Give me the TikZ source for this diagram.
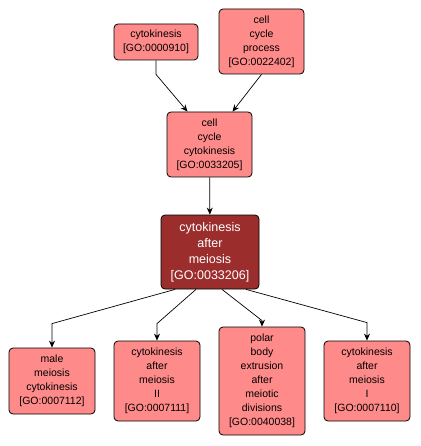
\documentclass[tikz,border=0pt]{standalone}
\usepackage{fontspec}
\setmainfont{Liberation Sans}
\usetikzlibrary{arrows.meta}
\definecolor{golight}{HTML}{FF8A8A}
\definecolor{godark}{HTML}{9B2D2D}
\tikzset{
  go/.style={draw=black,line width=.8pt,fill=golight,rounded corners=4pt,
    align=center,inner sep=0pt,font=\fontsize{10.5}{14}\selectfont},
  gosel/.style={go,fill=godark,text=white,font=\fontsize{12.5}{16}\selectfont},
  edge/.style={line width=.7pt,-{Stealth[length=7pt,width=6pt]}}
}
\begin{document}
\begin{tikzpicture}[x=1pt,y=-1pt]
	\useasboundingbox (0,0) rectangle (420,446);
	% top row
	\node[go,minimum width=84pt,minimum height=36pt] (ck) at (156,42) {cytokinesis\\{[GO:0000910]}};
	\node[go,minimum width=85pt,minimum height=65pt] (ccp) at (261.5,41.5) {cell\\cycle\\process\\{[GO:0022402]}};
	\node[go,minimum width=85pt,minimum height=65pt] (ccc) at (209.5,144.5) {cell\\cycle\\cytokinesis\\{[GO:0033205]}};
	% selected term
	\node[gosel,minimum width=98pt,minimum height=74pt] (cam) at (210,252) {cytokinesis\\after\\meiosis\\{[GO:0033206]}};
	% children
	\node[go,minimum width=86pt,minimum height=66pt] (mmc) at (52,381) {male\\meiosis\\cytokinesis\\{[GO:0007112]}};
	\node[go,minimum width=86pt,minimum height=80pt] (cam2) at (157,381) {cytokinesis\\after\\meiosis\\II\\{[GO:0007111]}};
	\node[go,minimum width=86pt,minimum height=108pt] (pbe) at (262,381) {polar\\body\\extrusion\\after\\meiotic\\divisions\\{[GO:0040038]}};
	\node[go,minimum width=86pt,minimum height=80pt] (cam1) at (367,381) {cytokinesis\\after\\meiosis\\I\\{[GO:0007110]}};
	% edges
	\draw[edge] (ck.south) -- ++(0,14) -- ([xshift=-22pt]ccc.north);
	\draw[edge] (ccp.south) -- ([xshift=23pt]ccc.north);
	\draw[edge] (ccc) -- (cam);
	\draw[edge] ([xshift=-35pt]cam.south) -- ([yshift=24pt]mmc.north) -- (mmc.north);
	\draw[edge] ([xshift=-14pt]cam.south) -- ([yshift=17pt]cam2.north) -- (cam2.north);
	\draw[edge] ([xshift=12pt]cam.south) -- ([yshift=6pt]pbe.north) -- (pbe.north);
	\draw[edge] ([xshift=36pt]cam.south) -- ([yshift=18pt]cam1.north) -- (cam1.north);
\end{tikzpicture}
\end{document}
